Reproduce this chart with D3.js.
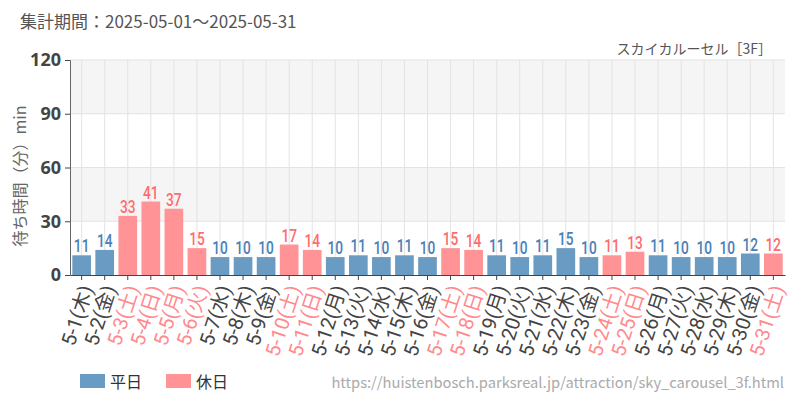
<!DOCTYPE html>
<html><head><meta charset="utf-8">
<script src="https://cdn.jsdelivr.net/npm/d3@7"></script>
<style>body{margin:0;background:#fff;}svg{display:block;font-family:"Noto Sans CJK JP","Noto Sans",sans-serif;}</style>
</head><body>
<svg id="c" width="800" height="400"></svg>
<script>
const dates = ["5-1","5-2","5-3","5-4","5-5","5-6","5-7","5-8","5-9","5-10","5-11","5-12","5-13","5-14","5-15","5-16","5-17","5-18","5-19","5-20","5-21","5-22","5-23","5-24","5-25","5-26","5-27","5-28","5-29","5-30","5-31"];
const weekdays = ["木","金","土","日","月","火","水","木","金","土","日","月","火","水","木","金","土","日","月","火","水","木","金","土","日","月","火","水","木","金","土"];
const holiday = [0,0,1,1,1,1,0,0,0,1,1,0,0,0,0,0,1,1,0,0,0,0,0,1,1,0,0,0,0,0,1];
const waitTimes = [11,14,33,41,37,15,10,10,10,17,14,10,11,10,11,10,15,14,11,10,11,15,10,11,13,11,10,10,10,12,12];
const yTicks = [0,30,60,90,120];
const legendLabels = ["平日","休日"];

const svg = d3.select("#c");
const L=70, R=785, T=60, B=275;
const x = d3.scaleBand().domain(dates).range([L,R]).paddingInner(0.19).paddingOuter(0.1);
const y = d3.scaleLinear().domain([0,120]).range([B,T]);
const barCol = ["#6a9bc3","#ff9396"];
const lblCol = ["#4a80b8","#ff6b6e"];
const axCol = ["#444","#ff8a8e"];

// background bands
for (let i=0;i<yTicks.length-1;i++){
  svg.append("rect").attr("x",L).attr("width",R-L)
    .attr("y",y(yTicks[i+1])).attr("height",y(yTicks[i])-y(yTicks[i+1]))
    .attr("fill", i%2===1 ? "#f5f5f5" : "#ffffff");
}
// grid
svg.append("g").selectAll("line").data(yTicks.slice(1)).join("line")
  .attr("x1",L).attr("x2",R).attr("y1",d=>y(d)).attr("y2",d=>y(d)).attr("stroke","#e3e3e3");
svg.append("g").selectAll("line").data(dates).join("line")
  .attr("x1",d=>x(d)+x.bandwidth()/2).attr("x2",d=>x(d)+x.bandwidth()/2)
  .attr("y1",T).attr("y2",B).attr("stroke","#e3e3e3");

// bars
svg.append("g").selectAll("rect").data(dates).join("rect")
  .attr("x",d=>x(d)).attr("width",x.bandwidth())
  .attr("y",(d,i)=>y(waitTimes[i])).attr("height",(d,i)=>B-y(waitTimes[i]))
  .attr("fill",(d,i)=>barCol[holiday[i]]);
// value labels
svg.append("g").selectAll("text").data(dates).join("text")
  .attr("transform",(d,i)=>`translate(${x(d)+x.bandwidth()/2},${y(waitTimes[i])-3}) scale(0.74,1)`)
  .attr("text-anchor","middle")
  .style("font-family","'Roboto',sans-serif")
  .style("font-size","18.5px").style("font-weight","500")
  .attr("fill",(d,i)=>lblCol[holiday[i]])
  .text((d,i)=>waitTimes[i]);

// y axis
const ya = svg.append("g").attr("transform",`translate(${L},0)`)
  .call(d3.axisLeft(y).tickValues(yTicks).tickSize(5).tickPadding(4));
ya.select(".domain").attr("stroke","#666");
ya.selectAll(".tick line").attr("stroke","#444");
ya.selectAll("text").style("font-size","18px").style("font-weight","bold").attr("fill","#444")
  .style("font-family","'Noto Sans',sans-serif");

// x axis
const xa = svg.append("g").attr("transform",`translate(0,${B})`)
  .call(d3.axisBottom(x).tickSize(5).tickSizeOuter(0));
xa.select(".domain").attr("stroke","#444");
xa.selectAll(".tick line").attr("stroke","#444");
xa.selectAll(".tick text")
  .text((d,i)=>`${d}(${weekdays[i]})`)
  .attr("fill",(d,i)=>axCol[holiday[i]])
  .attr("text-anchor","end").attr("dx","0").attr("dy","0.35em").attr("y",0)
  .attr("transform","translate(5,11) rotate(-72)")
  .style("font-size","20px")
  .style("font-family","'Roboto','Noto Sans CJK JP',sans-serif");

// y title
svg.append("text").attr("transform","translate(26,176) rotate(-90)")
  .attr("text-anchor","middle").attr("fill","#666").style("font-size","16px")
  .text("待ち時間（分）min");

// titles
svg.append("text").attr("x",20).attr("y",28).attr("fill","#555").style("font-size","17px")
  .text("集計期間：2025-05-01～2025-05-31");
svg.append("text").attr("x",772).attr("y",54).attr("text-anchor","end").attr("fill","#555").style("font-size","14px")
  .text("スカイカルーセル［3F］");

// legend
const lg = svg.append("g");
[80,166].forEach((lx,i)=>{
  lg.append("rect").attr("x",lx).attr("y",374).attr("width",25).attr("height",14).attr("fill",barCol[i]);
  lg.append("text").attr("x",lx+30).attr("y",388).attr("fill","#333").style("font-size","16px").text(legendLabels[i]);
});
svg.append("text").attr("x",784).attr("y",388).attr("text-anchor","end").attr("fill","#aaa")
  .style("font-size","14.7px").text("https://huistenbosch.parksreal.jp/attraction/sky_carousel_3f.html");
</script>
</body></html>
